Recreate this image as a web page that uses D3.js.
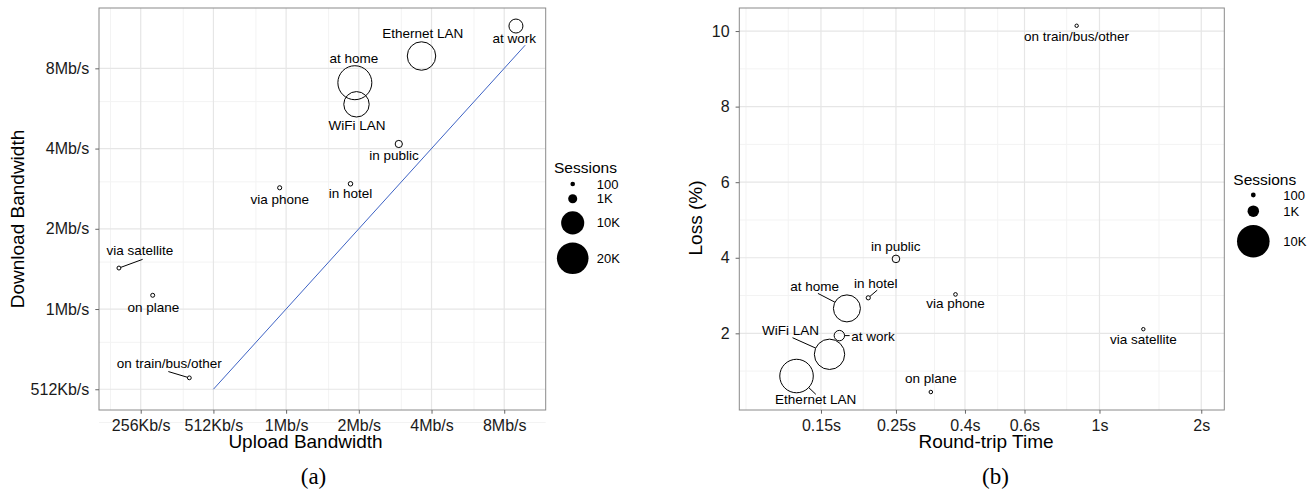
<!DOCTYPE html>
<html>
<head>
<meta charset="utf-8">
<script src="https://cdn.jsdelivr.net/npm/d3@7"></script>
<style>
  body { margin: 0; background: #fff; }
  svg { display: block; font-family: "Liberation Sans", Arial, sans-serif; }
</style>
</head>
<body>
<div id="chart"></div>
<script>
/* Two bubble charts: bandwidth (a) and RTT vs loss (b) */

const width = 1310, height = 491;

// data
const places = ["at work", "Ethernet LAN", "at home", "WiFi LAN", "in public",
  "in hotel", "via phone", "via satellite", "on plane", "on train/bus/other"];
const upload = [9160, 3723, 1972, 2003, 2998, 1892, 963, 208, 287, 407];      // Kb/s
const download = [11806, 9112, 7235, 6004, 4261, 3021, 2919, 1459, 1153, 565]; // Kb/s
const sessionsBw = [3100, 15900, 23400, 12400, 520, 90, 60, 45, 50, 40];
const rtt = [0.170, 0.127, 0.179, 0.159, 0.25, 0.207, 0.375, 1.348, 0.317, 0.856]; // s
const loss = [1.94, 0.87, 2.66, 1.445, 3.97, 2.94, 3.03, 2.11, 0.447, 10.14];      // %
const sessionsRtt = [790, 10600, 6700, 8600, 362, 65, 40, 30, 35, 30];

const refLine = [512, 10000]; // y = x

// ticks
const upTicks = [256, 512, 1024, 2048, 4096, 8192];
const upLabels = ["256Kb/s", "512Kb/s", "1Mb/s", "2Mb/s", "4Mb/s", "8Mb/s"];
const downTicks = [512, 1024, 2048, 4096, 8192];
const downLabels = ["512Kb/s", "1Mb/s", "2Mb/s", "4Mb/s", "8Mb/s"];
const bwMinor = [192, 384, 768, 1536, 3072, 6144];
const rttTicks = [0.15, 0.25, 0.4, 0.6, 1, 2];
const rttLabels = ["0.15s", "0.25s", "0.4s", "0.6s", "1s", "2s"];
const rttMinor = [0.09, 0.12, 0.2, 0.325, 0.5, 0.8, 1.5];
const lossTicks = [2, 4, 6, 8, 10];
const lossMinor = [1, 3, 5, 7, 9];

const legendBreaksA = [100, 1000, 10000, 20000];
const legendLabelsA = ["100", "1K", "10K", "20K"];
const legendBreaksB = [100, 1000, 10000];
const legendLabelsB = ["100", "1K", "10K"];

// label placement (dx, dy from point; optional segment end)
const labelPosA = {
  "at work": [-1.7, 17.3], "Ethernet LAN": [1.3, -17.7], "at home": [-1, -20],
  "WiFi LAN": [0.6, 25.7], "in public": [-4.7, 15.6], "in hotel": [0, 14.6],
  "via phone": [0, 16.3], "via satellite": [21, -13, 23.7, -8.7],
  "on plane": [0.6, 16.4], "on train/bus/other": [-20, -9.7, -21, -6.3]
};
const labelPosB = {
  "at work": [33.7, 5, 10.3, 0], "Ethernet LAN": [19.1, 28.3, 19.3, 18.3],
  "at home": [-32.3, -17.3, -29, -15], "WiFi LAN": [-39, -19.3, -37, -16.6],
  "in public": [-0.3, -8.3], "in hotel": [7.5, -9.4, 9, -7.7],
  "via phone": [0, 14], "via satellite": [0, 14.7], "on plane": [0.1, -8.7],
  "on train/bus/other": [-0.2, 15.3]
};

const svg = d3.select("#chart")
  .append("svg")
  .attr("width", width)
  .attr("height", height);

// scales
const xA = d3.scaleLog().base(2).domain([172, 12166]).range([99, 545.7]);
const yA = d3.scaleLog().base(2).domain([428, 13796]).range([410, 8]);
const rA = d3.scaleSqrt().domain([100, 20000]).range([2.3, 15.8]);

const xB = d3.scaleLog().domain([0.086, 2.34]).range([739.3, 1224.3]);
const yB = d3.scaleLinear().domain([-0.029, 10.61]).range([410, 8]);
const rB = d3.scaleSqrt().domain([100, 10000]).range([2.4, 16.3]);

function panel(x, y, xMajor, xMinor, yMajor, yMinor) {
  const [x0, x1] = x.range(), [y0, y1] = y.range();
  const g = svg.append("g");
  g.selectAll(".vminor").data(xMinor).join("line")
    .attr("x1", d => x(d)).attr("x2", d => x(d)).attr("y1", y0).attr("y2", y1)
    .attr("stroke", "#f3f3f3").attr("stroke-width", 1);
  g.selectAll(".hminor").data(yMinor).join("line")
    .attr("y1", d => y(d)).attr("y2", d => y(d)).attr("x1", x0).attr("x2", x1)
    .attr("stroke", "#f3f3f3").attr("stroke-width", 1);
  g.selectAll(".vmajor").data(xMajor).join("line")
    .attr("x1", d => x(d)).attr("x2", d => x(d)).attr("y1", y0).attr("y2", y1)
    .attr("stroke", "#e6e6e6").attr("stroke-width", 1.2);
  g.selectAll(".hmajor").data(yMajor).join("line")
    .attr("y1", d => y(d)).attr("y2", d => y(d)).attr("x1", x0).attr("x2", x1)
    .attr("stroke", "#e6e6e6").attr("stroke-width", 1.2);
  return g;
}

function border(x, y) {
  const [x0, x1] = x.range(), [y0, y1] = y.range();
  svg.append("rect")
    .attr("x", x0).attr("y", y1).attr("width", x1 - x0).attr("height", y0 - y1)
    .attr("fill", "none").attr("stroke", "#8a8a8a").attr("stroke-width", 1);
}

function axes(x, y, xt, xl, yt, yl) {
  const styleAxis = g => {
    g.select(".domain").remove();
    g.attr("font-size", 16).attr("font-family", "Liberation Sans, Arial, sans-serif");
    g.selectAll(".tick line").attr("stroke", "#666");
    g.selectAll(".tick text").attr("fill", "#1a1a1a");
  };
  svg.append("g")
    .attr("transform", `translate(0,${y.range()[0]})`)
    .call(d3.axisBottom(x).tickValues(xt).tickFormat((d, i) => xl[i]).tickSize(3.7).tickPadding(6))
    .call(styleAxis);
  svg.append("g")
    .attr("transform", `translate(${x.range()[0]},0)`)
    .call(d3.axisLeft(y).tickValues(yt).tickFormat((d, i) => yl[i]).tickSize(3.7).tickPadding(6))
    .call(styleAxis);
}

function points(x, y, r, xs, ys, ss, pos) {
  const g = svg.append("g");
  places.forEach((name, i) => {
    const px = x(xs[i]), py = y(ys[i]), pr = r(ss[i]);
    const p = pos[name];
    g.append("circle")
      .attr("cx", px).attr("cy", py).attr("r", pr)
      .attr("fill", "none").attr("stroke", "#000").attr("stroke-width", 1);
    if (p.length > 2) { // leader line from circle edge
      const len = Math.hypot(p[2], p[3]);
      g.append("line")
        .attr("x1", px + p[2] / len * pr).attr("y1", py + p[3] / len * pr)
        .attr("x2", px + p[2]).attr("y2", py + p[3])
        .attr("stroke", "#000").attr("stroke-width", 1);
    }
    g.append("text")
      .attr("x", px + p[0]).attr("y", py + p[1])
      .attr("text-anchor", "middle")
      .attr("font-size", 13.5)
      .text(name);
  });
}

function legend(r, breaks, labels, cx, titleX, titleY, firstY, labelX) {
  const g = svg.append("g");
  g.append("text").attr("x", titleX).attr("y", titleY)
    .attr("font-size", 15.5).text("Sessions");
  let cy = firstY;
  breaks.forEach((b, i) => {
    if (i > 0) cy += r(breaks[i - 1]) + r(b) + 8;
    g.append("circle").attr("cx", cx).attr("cy", cy).attr("r", r(b)).attr("fill", "#000");
    g.append("text").attr("x", labelX).attr("y", cy).attr("dy", "0.35em")
      .attr("font-size", 13).text(labels[i]);
  });
}

// panel (a)
panel(xA, yA, upTicks, bwMinor, downTicks, bwMinor);
svg.append("path")
  .datum(refLine)
  .attr("d", d3.line().x(d => xA(d)).y(d => yA(d)))
  .attr("fill", "none")
  .attr("stroke", "#3d62c4")
  .attr("stroke-width", 1);
points(xA, yA, rA, upload, download, sessionsBw, labelPosA);
border(xA, yA);
axes(xA, yA, upTicks, upLabels, downTicks, downLabels);
legend(rA, legendBreaksA, legendLabelsA, 572.7, 554, 172.7, 184, 596.7);

// panel (b)
panel(xB, yB, rttTicks, rttMinor, lossTicks, lossMinor);
points(xB, yB, rB, rtt, loss, sessionsRtt, labelPosB);
border(xB, yB);
axes(xB, yB, rttTicks, rttLabels, lossTicks, lossTicks.map(String));
legend(rB, legendBreaksB, legendLabelsB, 1253.3, 1233.3, 185, 195, 1283.3);

// axis titles
const titles = [
  ["Upload Bandwidth", 305.5, 448, 0],
  ["Round-trip Time", 986, 448, 0],
  ["Download Bandwidth", 23.5, 219, -90],
  ["Loss (%)", 701.7, 218, -90]
];
titles.forEach(([t, x, y, rot]) => {
  svg.append("text")
    .attr("transform", `translate(${x},${y}) rotate(${rot})`)
    .attr("text-anchor", "middle")
    .attr("font-size", 19)
    .text(t);
});

// captions
[["(a)", 313.5], ["(b)", 995.5]].forEach(([t, x]) => {
  svg.append("text")
    .attr("x", x).attr("y", 484)
    .attr("text-anchor", "middle")
    .attr("font-family", "Liberation Serif, Times New Roman, serif")
    .attr("font-size", 23)
    .text(t);
});
</script>
</body>
</html>
